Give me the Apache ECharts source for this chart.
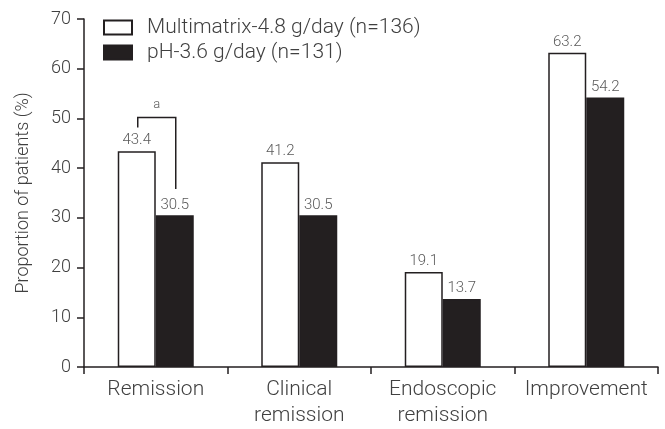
<!DOCTYPE html>
<html><head><meta charset="utf-8">
<script src="https://cdn.jsdelivr.net/npm/echarts@6/dist/echarts.min.js"></script>
<style>html,body{margin:0;padding:0;background:#fff}#c{width:665px;height:429px}</style>
</head><body><div id="c"></div>
<script>
const categories = ['Remission', 'Clinical\nremission', 'Endoscopic\nremission', 'Improvement'];
const multimatrix = [43.4, 41.2, 19.1, 63.2];
const ph = [30.5, 30.5, 13.7, 54.2];
const seriesNames = ['Multimatrix-4.8 g/day (n=136)', 'pH-3.6 g/day (n=131)'];
const yTicks = [0, 10, 20, 30, 40, 50, 60, 70];
// significance bracket: [category index, left end value, top value, right end value, label]
const bracket = [0, 48.2, 50.2, 35.8, 'a'];

const font = 'Roboto, "Liberation Sans", sans-serif';
const dark = '#231f20';
const textCol = '#404040';
const chart = echarts.init(document.getElementById('c'), null, {renderer: 'canvas'});
chart.setOption({
  animation: false,
  textStyle: {fontFamily: font},
  grid: {left: 84, right: 7, top: 19, bottom: 58, containLabel: false},
  legend: {
    left: 103, top: 17, orient: 'vertical', itemWidth: 28, itemHeight: 14, itemGap: 4,
    icon: 'rect', padding: 0,
    textStyle: {fontSize: 21, lineHeight: 21, color: textCol, fontFamily: font, fontWeight: 300, padding: [0, 0, 0, 10]},
    data: seriesNames
  },
  xAxis: {
    type: 'category', data: categories,
    axisLine: {lineStyle: {color: dark, width: 1.5}},
    axisTick: {show: true, length: 7, lineStyle: {color: dark, width: 1.5}, alignWithLabel: false, interval: 0},
    axisLabel: {interval: 0, hideOverlap: false, fontSize: 21, color: textCol, fontWeight: 300, lineHeight: 26, margin: 10}
  },
  yAxis: {
    type: 'value', min: 0, max: 70, interval: 10,
    name: 'Proportion of patients (%)', nameLocation: 'middle', nameGap: 52,
    nameTextStyle: {fontSize: 18, color: textCol, fontWeight: 300},
    splitLine: {show: false},
    axisLine: {show: true, lineStyle: {color: dark, width: 1.5}},
    axisTick: {show: true, length: 7, lineStyle: {color: dark, width: 1.5}},
    axisLabel: {fontSize: 18, color: textCol, fontWeight: 300, margin: 13,
      formatter: v => yTicks.includes(v) ? String(v) : ''}
  },
  series: [
    {
      name: seriesNames[0], type: 'bar', data: multimatrix, barWidth: 38, barGap: '0%',
      itemStyle: {color: '#ffffff', borderColor: dark, borderWidth: 1.5},
      label: {show: true, position: 'top', fontSize: 15, color: '#5a5a5a', fontWeight: 300, distance: 3, formatter: p => p.value.toFixed(1)}
    },
    {
      name: seriesNames[1], type: 'bar', data: ph, barWidth: 38,
      itemStyle: {color: dark, borderColor: dark, borderWidth: 1.5},
      label: {show: true, position: 'top', fontSize: 15, color: '#5a5a5a', fontWeight: 300, distance: 3, formatter: p => p.value.toFixed(1)}
    },
    {
      type: 'custom', data: [bracket], silent: true, z: 5,
      renderItem: function (params, api) {
        const ci = api.value(0);
        const pL = api.coord([ci, api.value(1)]);
        const pT = api.coord([ci, api.value(2)]);
        const pR = api.coord([ci, api.value(3)]);
        const off = 19;
        return {
          type: 'group', children: [
            {type: 'polyline', shape: {points: [[pL[0] - off + 1, pL[1]], [pT[0] - off + 1, pT[1]], [pT[0] + off + 1, pT[1]], [pR[0] + off + 1, pR[1]]]},
              style: {stroke: dark, lineWidth: 1.5, fill: null}},
            {type: 'text', style: {text: bracket[4], x: pT[0] + 1, y: pT[1] - 6, align: 'center', verticalAlign: 'bottom', fontSize: 13, fill: '#5a5a5a', fontWeight: 300, fontFamily: font}}
          ]
        };
      }
    }
  ]
});
</script></body></html>
